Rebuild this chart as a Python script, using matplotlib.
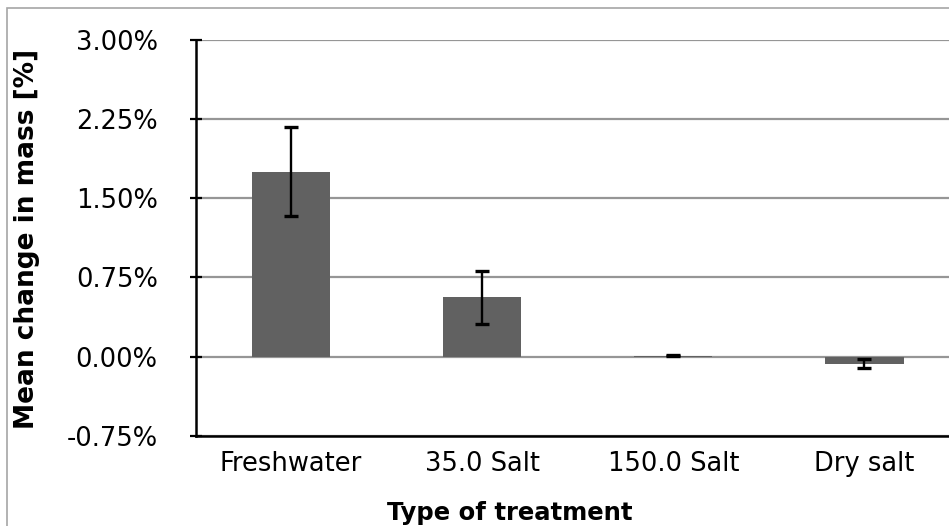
import matplotlib
matplotlib.use("Agg")
import matplotlib.pyplot as plt
from matplotlib.patches import Rectangle
from matplotlib.ticker import PercentFormatter

categories = ["Freshwater", "35.0 Salt", "150.0 Salt", "Dry salt"]
mean_change = [1.75, 0.56, 0.011, -0.066]
error = [0.42, 0.253, 0.007, 0.042]
y_ticks = [-0.75, 0.0, 0.75, 1.50, 2.25, 3.00]

plt.rcParams['font.family'] = ['DejaVu Sans']
plt.rcParams['axes.unicode_minus'] = False

W, H = 949, 526
fig = plt.figure(figsize=(W / 100, H / 100), dpi=100)

# outer chart border (cropped on right and bottom)
fig.patches.append(Rectangle((7 / W, -0.1), 1.2, 1 - 8 / H + 0.1,
                             transform=fig.transFigure, fill=False,
                             edgecolor="#a6a6a6", linewidth=1.2))

left, right, top, bottom = 195.5, 960.0, 39.5, 436.0
ax = fig.add_axes([left / W, 1 - bottom / H, (right - left) / W, (bottom - top) / H])

x = list(range(len(categories)))
ax.bar(x, mean_change, width=0.41, color="#616161", zorder=3)
ax.errorbar(x, mean_change, yerr=error, fmt="none", ecolor="black",
            elinewidth=1.7, capsize=4.8, capthick=2.4, zorder=4)

ax.set_xlim(-0.5, len(categories) - 0.5)
ax.set_ylim(y_ticks[0], y_ticks[-1])
ax.set_yticks(y_ticks)
ax.yaxis.set_major_formatter(PercentFormatter(decimals=2))
ax.set_xticks(x)
ax.set_xticklabels(categories)

ax.grid(axis="y", color="#969696", linewidth=1.6, zorder=0)
ax.set_axisbelow(True)
for s in ["top", "right"]:
    ax.spines[s].set_visible(False)
for s in ["left", "bottom"]:
    ax.spines[s].set_color("black")
    ax.spines[s].set_linewidth(1.8)

ax.tick_params(axis="y", direction="inout", length=8.5, width=1.6,
               labelsize=18.5, pad=23, colors="black")
ax.tick_params(axis="x", length=0, labelsize=18.5, pad=11)

fig.text(27 / W, 1 - 239 / H, "Mean change in mass [%]", rotation=90,
         ha="center", va="center", fontsize=19, fontweight="bold")
fig.text(510 / W, 1 - 513 / H, "Type of treatment", ha="center", va="center",
         fontsize=17.5, fontweight="bold")

fig.savefig("out.png", dpi=100)
